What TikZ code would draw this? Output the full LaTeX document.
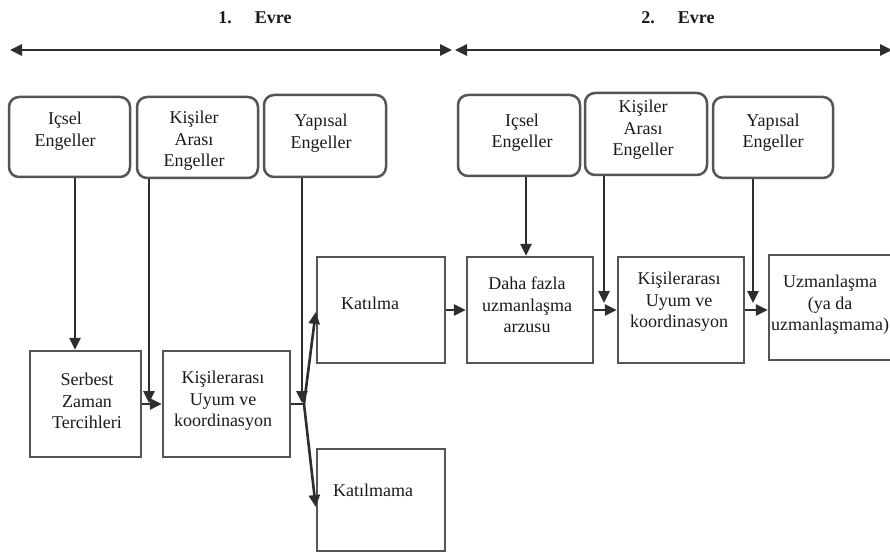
\documentclass[tikz,border=0pt]{standalone}
\usepackage{fontspec}
\setmainfont{Liberation Serif}
\usetikzlibrary{arrows.meta}
\definecolor{linec}{HTML}{2E2E2E}
\definecolor{boxc}{HTML}{555555}
\definecolor{txtc}{HTML}{1A1A1A}
\begin{document}
\begin{tikzpicture}[x=1pt,y=-1pt,
  rbox/.style={draw=boxc, line width=2.5pt, rounded corners=10pt, inner sep=0pt},
  sbox/.style={draw=boxc, line width=2.5pt, inner sep=0pt},
  txt/.style={align=center, text=txtc, inner sep=0pt, font=\fontsize{18}{21.5}\selectfont},
  ttl/.style={text=txtc, inner sep=0pt, font=\fontsize{18}{21}\selectfont\bfseries},
  conn/.style={draw=linec, line width=2.6pt},
  arr/.style={conn, -{Triangle[length=12pt,width=11pt]}},
  darr/.style={conn, {Triangle[length=12pt,width=11pt]}-{Triangle[length=12pt,width=11pt]}}
]
\useasboundingbox (0,0) rectangle (890,553);

% titles and phase arrows
\node[ttl] (e1) at (255,18) {1.\hspace{23pt}Evre};
\node[ttl] (e2) at (678,18) {2.\hspace{23pt}Evre};
\coordinate (a1l) at (10,50);
\coordinate (a1r) at (452,50);
\coordinate (a2l) at (455,50);
\coordinate (a2r) at (892,50);
\draw[darr] (a1l) -- (a1r);
\draw[darr] (a2l) -- (a2r);

% top rounded boxes, phase 1
\node[rbox, minimum width=121pt, minimum height=80pt] (i1) at (69.5,137) {};
\node[txt] (ti1) at (65,131) {Içsel\\Engeller};
\node[rbox, minimum width=121pt, minimum height=81pt] (k1) at (197.5,137.5) {};
\node[txt] (tk1) at (194,141) {Kişiler\\Arası\\Engeller};
\node[rbox, minimum width=122pt, minimum height=82pt] (y1) at (325,136) {};
\node[txt] (ty1) at (321,133) {Yapısal\\Engeller};

% top rounded boxes, phase 2
\node[rbox, minimum width=122pt, minimum height=81pt] (i2) at (519,135.5) {};
\node[txt] (ti2) at (522,132.5) {Içsel\\Engeller};
\node[rbox, minimum width=122pt, minimum height=82pt] (k2) at (646,134) {};
\node[txt] (tk2) at (643,130) {Kişiler\\Arası\\Engeller};
\node[rbox, minimum width=120pt, minimum height=81pt] (y2) at (773,137.5) {};
\node[txt] (ty2) at (773,132.5) {Yapısal\\Engeller};

% lower boxes, phase 1
\node[sbox, minimum width=111pt, minimum height=106pt] (s1) at (85.5,404) {};
\node[txt] (ts1) at (87,401) {Serbest\\Zaman\\Tercihleri};
\node[sbox, minimum width=127pt, minimum height=106pt] (u1) at (226.5,404) {};
\node[txt] (tu1) at (223,401) {Kişilerarası\\Uyum ve\\koordinasyon};
\node[sbox, minimum width=128pt, minimum height=106pt] (kat) at (381,310) {};
\node[txt] (tkat) at (370,303) {Katılma};
\node[sbox, minimum width=128pt, minimum height=102pt] (katm) at (381,500) {};
\node[txt] (tkatm) at (373,490) {Katılmama};

% lower boxes, phase 2
\node[sbox, minimum width=126pt, minimum height=106pt] (d2) at (530,310) {};
\node[txt] (td2) at (527,305) {Daha fazla\\uzmanlaşma\\arzusu};
\node[sbox, minimum width=126pt, minimum height=106pt] (u2) at (681,310) {};
\node[txt] (tu2) at (679,302) {Kişilerarası\\Uyum ve\\koordinasyon};
\node[sbox, minimum width=131pt, minimum height=105pt] (z2) at (834.5,307.5) {};
\node[txt] (tz2) at (830,305) {Uzmanlaşma\\(ya da\\uzmanlaşmama)};

% junction points
\coordinate (j1) at (304,404);
\coordinate (ka) at (kat.west |- 0,312);
\coordinate (kb) at (katm.west |- 0,507);

% phase 1 connectors
\draw[arr] (i1.south -| 75,0) -- (s1.north -| 75,0);
\draw[arr] (k1.south -| 149,0) -- (149,403);
\draw[arr] (y1.south -| 302,0) -- (302,403);
\draw[arr] (s1.east |- 0,404) -- (u1.west |- 0,404);
\draw[conn] (u1.east |- j1) -- (j1);
\draw[arr] (j1) -- (ka);
\draw[arr] (j1) -- (kb);

% phase 2 connectors
\draw[arr] (kat.east |- 0,310) -- (d2.west |- 0,310);
\draw[arr] (i2.south -| 526,0) -- (d2.north -| 526,0);
\draw[arr] (k2.south -| 604,0) -- (604,303);
\draw[arr] (y2.south -| 753,0) -- (753,303);
\draw[arr] (d2.east |- 0,310) -- (u2.west |- 0,310);
\draw[arr] (u2.east |- 0,310) -- (z2.west |- 0,310);
\end{tikzpicture}
\end{document}
